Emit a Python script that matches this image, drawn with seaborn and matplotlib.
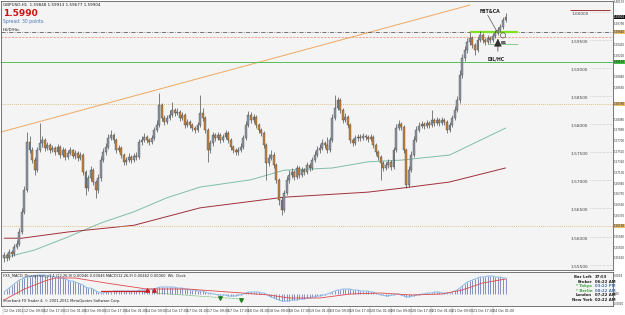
import numpy as np
import pandas as pd
import matplotlib
matplotlib.use("Agg")
import matplotlib.pyplot as plt
import seaborn as sns

# GBPUSD H1, prices in 1/10000
first_open = 15562
close_p = [15567, 15562, 15572, 15569, 15581, 15587, 15608, 15644, 15683, 15768,
           15754, 15736, 15718, 15754, 15766, 15772, 15758, 15763, 15754, 15758,
           15750, 15759, 15745, 15754, 15741, 15749, 15754, 15743, 15749, 15740,
           15745, 15715, 15686, 15704, 15718, 15697, 15683, 15704, 15736, 15750,
           15759, 15775, 15781, 15772, 15754, 15758, 15745, 15733, 15736, 15741,
           15736, 15743, 15741, 15768, 15772, 15777, 15772, 15768, 15775, 15790,
           15798, 15834, 15811, 15804, 15811, 15816, 15825, 15820, 15822, 15811,
           15816, 15798, 15804, 15798, 15793, 15790, 15798, 15820, 15811, 15790,
           15754, 15766, 15781, 15775, 15781, 15772, 15777, 15784, 15772, 15759,
           15754, 15750, 15754, 15759, 15775, 15798, 15816, 15807, 15813, 15798,
           15790, 15784, 15763, 15731, 15740, 15745, 15727, 15701, 15665, 15647,
           15677, 15701, 15709, 15715, 15706, 15722, 15709, 15718, 15715, 15727,
           15722, 15736, 15745, 15754, 15758, 15766, 15763, 15754, 15772, 15811,
           15829, 15843, 15825, 15807, 15813, 15798, 15772, 15766, 15775, 15777,
           15775, 15779, 15777, 15774, 15777, 15763, 15750, 15741, 15731, 15722,
           15727, 15733, 15724, 15754, 15793, 15800, 15795, 15754, 15692, 15718,
           15745, 15772, 15790, 15797, 15800, 15797, 15802, 15798, 15807, 15802,
           15807, 15802, 15807, 15804, 15790, 15798, 15811, 15825, 15843, 15887,
           15918, 15932, 15946, 15953, 15941, 15932, 15950, 15959, 15950, 15946,
           15953, 15950, 15957, 15962, 15968, 15973, 15985, 15990]
high_p = [15572, 15571, 15578, 15576, 15587, 15594, 15615, 15651, 15690, 15786,
          15779, 15759, 15741, 15759, 15802, 15779, 15775, 15768, 15766, 15763,
          15761, 15765, 15763, 15759, 15758, 15754, 15759, 15756, 15754, 15752,
          15750, 15749, 15718, 15709, 15725, 15722, 15701, 15711, 15743, 15758,
          15766, 15782, 15790, 15784, 15775, 15763, 15761, 15749, 15741, 15749,
          15745, 15749, 15750, 15774, 15779, 15784, 15781, 15775, 15781, 15795,
          15807, 15855, 15838, 15816, 15816, 15825, 15839, 15829, 15829, 15825,
          15822, 15820, 15809, 15807, 15802, 15797, 15804, 15852, 15829, 15814,
          15793, 15772, 15786, 15784, 15786, 15784, 15782, 15790, 15788, 15775,
          15763, 15758, 15759, 15766, 15781, 15806, 15823, 15822, 15818, 15816,
          15802, 15793, 15788, 15766, 15747, 15754, 15750, 15731, 15704, 15670,
          15683, 15708, 15718, 15722, 15718, 15727, 15725, 15724, 15722, 15733,
          15731, 15741, 15752, 15761, 15765, 15774, 15770, 15777, 15777, 15818,
          15852, 15848, 15847, 15829, 15820, 15816, 15802, 15775, 15781, 15782,
          15782, 15784, 15782, 15781, 15782, 15781, 15766, 15754, 15745, 15734,
          15733, 15738, 15736, 15759, 15800, 15807, 15804, 15798, 15758, 15725,
          15752, 15779, 15797, 15804, 15806, 15804, 15807, 15806, 15825, 15811,
          15813, 15811, 15813, 15811, 15807, 15804, 15816, 15832, 15850, 15896,
          15925, 15939, 15953, 15964, 15957, 15944, 15955, 15966, 15962, 15953,
          15959, 15957, 15962, 15968, 15973, 15978, 15991, 15998]
low_p = [15555, 15556, 15558, 15563, 15565, 15578, 15583, 15604, 15640, 15679,
         15749, 15731, 15709, 15715, 15750, 15759, 15752, 15754, 15749, 15750,
         15745, 15747, 15740, 15741, 15736, 15738, 15745, 15740, 15738, 15734,
         15736, 15709, 15674, 15681, 15699, 15692, 15669, 15677, 15699, 15733,
         15745, 15756, 15772, 15766, 15749, 15750, 15740, 15727, 15727, 15733,
         15731, 15733, 15736, 15738, 15763, 15768, 15766, 15763, 15765, 15772,
         15786, 15795, 15806, 15798, 15800, 15807, 15813, 15814, 15816, 15806,
         15807, 15793, 15795, 15793, 15788, 15784, 15786, 15795, 15806, 15784,
         15733, 15749, 15761, 15770, 15772, 15766, 15768, 15774, 15766, 15754,
         15749, 15745, 15745, 15750, 15756, 15772, 15795, 15802, 15802, 15793,
         15784, 15779, 15758, 15701, 15725, 15736, 15722, 15695, 15656, 15638,
         15644, 15674, 15695, 15704, 15701, 15702, 15704, 15706, 15709, 15711,
         15717, 15718, 15733, 15741, 15749, 15754, 15758, 15749, 15750, 15768,
         15807, 15825, 15820, 15802, 15804, 15793, 15766, 15761, 15763, 15770,
         15770, 15772, 15772, 15768, 15770, 15758, 15745, 15736, 15701, 15717,
         15718, 15722, 15718, 15720, 15750, 15790, 15790, 15749, 15686, 15688,
         15715, 15741, 15768, 15786, 15793, 15791, 15793, 15793, 15795, 15797,
         15798, 15797, 15798, 15798, 15784, 15786, 15795, 15807, 15822, 15838,
         15882, 15912, 15927, 15941, 15936, 15923, 15928, 15946, 15944, 15941,
         15943, 15944, 15946, 15953, 15959, 15964, 15969, 15982]

# moving averages read at a few bars
ma_fast_bar = [0, 12, 25, 38, 51, 64, 77, 97, 110, 129, 143, 156, 175, 197]
ma_fast_p = [15562, 15576, 15599, 15624, 15644, 15669, 15688, 15701, 15718,
             15722, 15733, 15736, 15745, 15793]
ma_slow_bar = [0, 7, 25, 51, 77, 110, 143, 156, 175, 197]
ma_slow_p = [15597, 15597, 15608, 15620, 15651, 15670, 15679, 15686, 15697, 15722]

# drawn objects
trend_bar = [-1.2, 183]
trend_p = [15786, 16012]
green_level = 1.5911
tan_level_hi = 1.5836
tan_level_lo = 1.5619
pdh_level = 1.5964
orange_level = 1.5955
red_level = 1.6003
bid = 1.59904

# MACD histogram per bar, in 1/10000
macd_hist = [2, 4, 6, 8, 10, 12, 14, 15, 16, 17,
             17, 18, 18, 19, 19, 19, 19, 18, 18, 18,
             17, 17, 16, 16, 15, 14, 13, 13, 12, 11,
             10, 9, 7, 6, 6, 5, 3, 2, 1, 1,
             2, 2, 2, 3, 3, 3, 3, 3, 3, 3,
             3, 3, 3, 4, 4, 4, 4, 5, 5, 5,
             6, 7, 7, 7, 7, 7, 7, 7, 6, 6,
             6, 5, 5, 4, 4, 4, 3, 3, 3, 2,
             1, 1, 0, 0, -1, -1, -1, -1, -2, -2,
             -2, -2, -1, -1, 0, 1, 2, 2, 2, 2,
             2, 1, 1, 0, -2, -3, -4, -5, -6, -7,
             -7, -7, -7, -6, -6, -6, -5, -5, -5, -4,
             -4, -3, -3, -2, -2, -1, -1, 0, 1, 2,
             3, 4, 4, 5, 5, 5, 5, 4, 4, 4,
             3, 3, 3, 3, 2, 2, 1, 0, -1, -1,
             -2, -2, -1, -1, 0, 0, -1, -2, -3, -3,
             -2, -2, -1, -1, 0, 0, 1, 1, 1, 2,
             2, 2, 1, 1, 1, 1, 2, 3, 4, 6,
             8, 10, 12, 13, 14, 15, 16, 17, 17, 17,
             18, 18, 18, 17, 17, 17, 16, 16]
sig_bar = [0, 8, 16, 20, 28, 40, 56, 72, 88, 104, 112, 124, 136, 148, 160, 172, 180, 188, 197]
sig_val = [-6, 5, 13, 16, 16, 11, 5, 5, 2, -1, -4, -4, 0, 1, -1, 0, 4, 11, 15]
div_red_bar = [38, 57]
div_red_val = [3, 3]
div_red_marks = [56, 59]
div_green_bar = [59, 93]
div_green_val = [1, -5]
div_green_marks = [85, 93]

time_labels = ["12 Oct 2011", "12 Oct 09:00", "12 Oct 17:00", "13 Oct 01:00",
               "13 Oct 09:00", "13 Oct 17:00", "14 Oct 01:00", "14 Oct 09:00",
               "14 Oct 17:00", "17 Oct 01:00", "17 Oct 09:00", "17 Oct 17:00",
               "18 Oct 01:00", "18 Oct 09:00", "18 Oct 17:00", "19 Oct 01:00",
               "19 Oct 09:00", "19 Oct 17:00", "20 Oct 01:00", "20 Oct 09:00",
               "20 Oct 17:00", "21 Oct 01:00", "21 Oct 09:00", "21 Oct 17:00",
               "24 Oct 01:00"]
round_levels = [1.600, 1.595, 1.590, 1.585, 1.580, 1.575, 1.570, 1.565, 1.560, 1.555]

df = pd.DataFrame({"close": np.array(close_p) / 10000,
                   "high": np.array(high_p) / 10000,
                   "low": np.array(low_p) / 10000})
df["open"] = df["close"].shift(1).fillna(first_open / 10000)
df["bar"] = np.arange(len(df))
df["up"] = df["close"] >= df["open"]
df["hist"] = np.array(macd_hist) / 10000

sns.set_theme(style="white")
plt.rcParams['font.family'] = ['DejaVu Sans']

W, H = 625, 315
RIGHT = 613
fig = plt.figure(figsize=(W / 100, H / 100), dpi=100)
fig.patch.set_facecolor("white")


def px_axes(x0, y0, x1, y1):
    return fig.add_axes([x0 / W, 1 - y1 / H, (x1 - x0) / W, (y1 - y0) / H])


def price_to_px(v):
    return (1.6021 - v) / 0.000178


ax = px_axes(1, 1, RIGHT, 270)
ax.set_facecolor("#f4f4f4")
xlim = (-1.2, (RIGHT - 3) / 2.55)
ax.set_xlim(*xlim)
ax.set_ylim(1.55404, 1.60192)

# candles
ax.vlines(df["bar"], df["low"], df["high"], color="#3c3c3c", lw=0.45, zorder=3)
bull = df[df["up"]]
bear = df[~df["up"]]
ax.bar(bull["bar"], (bull["close"] - bull["open"]).clip(lower=0.00004), bottom=bull["open"],
       width=0.75, color="#8e98a4", edgecolor="#3c3c3c", linewidth=0.25, zorder=4)
ax.bar(bear["bar"], bear["open"] - bear["close"], bottom=bear["close"],
       width=0.75, color="#c8843a", edgecolor="#3c3c3c", linewidth=0.25, zorder=4)

# moving averages
sns.lineplot(x=np.array(ma_fast_bar), y=np.array(ma_fast_p) / 10000, ax=ax,
             color="#7fbfa6", lw=0.7, zorder=2)
sns.lineplot(x=np.array(ma_slow_bar), y=np.array(ma_slow_p) / 10000, ax=ax,
             color="#a0303c", lw=0.7, zorder=2)

# trend line and levels
ax.plot(trend_bar, np.array(trend_p) / 10000, color="#f0a860", lw=0.7, zorder=2)
ax.axhline(green_level, color="#58c058", lw=0.7, zorder=2)
ax.axhline(tan_level_hi, color="#d8b060", lw=0.6, ls=(0, (1, 1.5)), zorder=2)
ax.axhline(tan_level_lo, color="#d8b060", lw=0.6, ls=(0, (1, 1.5)), zorder=2)
ax.axhline(pdh_level, color="#404040", lw=0.5, ls=(0, (6, 2, 1, 2)), zorder=2)
ax.axhline(orange_level, color="#f08060", lw=0.5, ls=(0, (3, 2)), zorder=2)
ax.hlines(red_level, 222.4, 238, color="#a03030", lw=0.7, zorder=2)
ax.hlines(pdh_level, 183, 202, color="#80e020", lw=1.6, zorder=2)
ax.hlines(1.5943, 190, 202, color="#80c080", lw=0.6, zorder=2)

for lv in round_levels:
    ax.text(229.5, lv, f"{lv:.5f}", fontsize=3.1, color="#404040", ha="right", va="top")
    ax.hlines(lv, 230, 239, color="#a0a0a0", lw=0.4, ls=(0, (1, 1.5)))

ax.text(187, 1.5997, "FBT&CA", fontsize=3.3, fontweight="bold", color="#202020")
ax.plot([190, 194], [1.5994, 1.5962], color="#303030", lw=0.4)
ax.annotate("", xy=(194, 1.5957), xytext=(194, 1.5925),
            arrowprops=dict(arrowstyle="-|>", color="#303030", lw=0.5))
ax.text(190, 1.5914, "DIL/HC", fontsize=3.3, fontweight="bold", color="#202020")
ax.text(195, 1.5942, "B1", fontsize=3.1, fontweight="bold", color="#202020")
ax.scatter([196], [1.5958], s=14, facecolors="none", edgecolors="#303030", lw=0.4, zorder=6)

ax.set_xticks([])
ax.set_yticks([])
ax.set_xlabel("")
ax.set_ylabel("")
for s in ax.spines.values():
    s.set_color("#606060")
    s.set_linewidth(0.6)

fig.text(3 / W, 1 - 5 / H, "GBPUSD,H1  1.59848 1.59913 1.59677 1.59904", fontsize=3.0,
         color="#202020", va="center")
fig.text(3 / W, 1 - 13 / H, "1.5990", fontsize=6.5, color="#d01010", fontweight="bold", va="center")
fig.text(3 / W, 1 - 21 / H, "Spread: 30 points.", fontsize=3.3, color="#4a78b8", va="center")
fig.text(3 / W, 1 - 30 / H, "H0/D/Htc", fontsize=2.8, color="#202020", va="center")

# price scale on the right
boxes = [(bid, "#101010", "white"), (pdh_level, "#e8c070", "#202020"),
         (green_level, "#40c040", "#202020"), (tan_level_hi, "#e8c070", "#202020"),
         (tan_level_lo, "#e8c070", "#202020")]
box_px = [price_to_px(v) for v, _, _ in boxes]
scale_vals = np.arange(1.5542, 1.6020, 0.0019)
for v in scale_vals:
    ypx = price_to_px(v)
    if 2 < ypx < 268 and min(abs(ypx - b) for b in box_px) > 6:
        fig.text(614.2 / W, 1 - ypx / H, f"{v:.5f}", fontsize=2.0, color="#303030", va="center")
for v, fc, tc in boxes:
    ypx = price_to_px(v)
    fig.text(614.2 / W, 1 - ypx / H, f"{v:.5f}", fontsize=2.0, color=tc, va="center",
             bbox=dict(boxstyle="square,pad=0.1", fc=fc, ec="none"))

# MACD window
ax2 = px_axes(1, 272, RIGHT, 306)
ax2.set_facecolor("#f4f4f4")
ax2.set_xlim(*xlim)
ax2.set_ylim(-0.0012, 0.0022)
ax2.vlines(df["bar"], 0, df["hist"], color="#4858a0", lw=0.45)
sns.lineplot(data=df, x="bar", y="hist", ax=ax2, color="#7ab0e8", lw=0.6)
sns.lineplot(x=sig_bar, y=np.array(sig_val) / 10000, ax=ax2, color="#e04848", lw=0.6)
ax2.plot(div_red_bar, np.array(div_red_val) / 10000, color="#d02020", lw=0.9)
ax2.scatter(div_red_marks, [0.00045] * len(div_red_marks), marker="^", s=6, color="#d02020", zorder=5)
ax2.plot(div_green_bar, np.array(div_green_val) / 10000, color="#30a030", lw=0.5, ls=(0, (1, 1)))
ax2.scatter(div_green_marks, [-0.0004, -0.0006], marker="v", s=6, color="#208020", zorder=5)
ax2.set_xticks([])
ax2.set_yticks([])
ax2.set_xlabel("")
ax2.set_ylabel("")
for s in ax2.spines.values():
    s.set_color("#606060")
    s.set_linewidth(0.6)
ax2.text(0.004, 0.95, "FX5_MACD_Divergence_v1.1 (12,26,9) 0.00046 0.00046 MACD(12,26,9) 0.00462 0.00060  Wk  Clock",
         transform=ax2.transAxes, fontsize=2.6, va="top", color="#202020")
fig.text(3 / W, 1 - 301 / H, "Interbank FX Trader 4, \u00a9 2001-2011 MetaQuotes Software Corp.",
         fontsize=2.6, color="#202020", va="center")
for v, lab in [(0.0018, "0.0018"), (0.0, "0.00"), (-0.001, "-0.0010")]:
    ypx = 272 + (0.0022 - v) / 0.0034 * 34
    fig.text(614.2 / W, 1 - ypx / H, lab, fontsize=2.0, color="#303030", va="center")

clock = [("Bar Left", "37:53", "#202020"), ("Broker", "06:22 AM", "#202020"),
         ("* Tokyo", "03:22 PM", "#40a040"), ("* Berlin", "08:22 AM", "#40a040"),
         ("London", "07:22 AM", "#202020"), ("New York", "02:22 AM", "#202020")]
for k, (name, val, col) in enumerate(clock):
    yy = 1 - (277 + k * 4.6) / H
    fig.text(592 / W, yy, name, fontsize=2.8, fontweight="bold", color=col, ha="right", va="center")
    fig.text(595 / W, yy, val, fontsize=2.8, fontweight="bold",
             color="#202020" if col == "#202020" else "#4a78b8", va="center")

# time axis
for k, lab in enumerate(time_labels):
    xpx = 3 + k * 8 * 2.55
    fig.text((xpx + 0.6) / W, 1 - 311 / H, lab, fontsize=2.35, color="#303030", va="center")
    fig.lines.append(plt.Line2D([xpx / W, xpx / W], [1 - 307 / H, 1 - 314 / H],
                                transform=fig.transFigure, color="#909090", lw=0.3))

fig.savefig("out.png", dpi=100)
